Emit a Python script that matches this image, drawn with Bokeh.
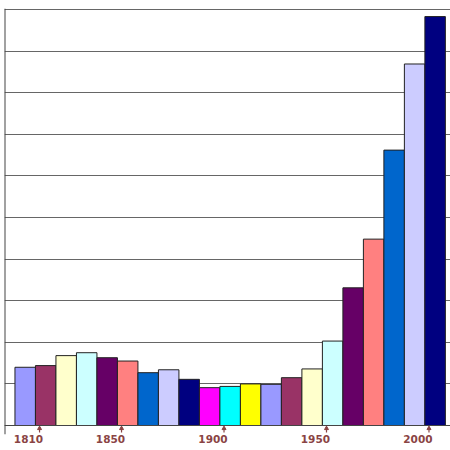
from bokeh.plotting import figure
from bokeh.models import Range1d, FixedTicker, CustomJSTickFormatter, Span
from bokeh.embed import file_html
from bokeh.resources import INLINE

# ---- data ----
decades = [1800, 1810, 1820, 1830, 1840, 1850, 1860, 1870, 1880, 1890, 1900,
           1910, 1920, 1930, 1940, 1950, 1960, 1970, 1980, 1990, 2000]
values = [1.40, 1.44, 1.68, 1.75, 1.63, 1.55, 1.27, 1.34, 1.11, 0.91, 0.94,
          1.00, 0.99, 1.15, 1.36, 2.03, 3.31, 4.48, 6.62, 8.69, 9.83]
palette = ["#9999ff", "#993366", "#ffffcc", "#ccffff", "#660066", "#ff8080",
           "#0066cc", "#ccccff", "#000080", "#ff00ff", "#00ffff", "#ffff00"]
tick_years = [1810, 1850, 1900, 1950, 2000]
tick_labels = ["1810", "1850", "1900", "1950", "2000"]
grid_levels = [0, 1, 2, 3, 4, 5, 6, 7, 8, 9, 10]

bar_shift = 3.0      # bars sit slightly right of the decade mark
label_shift = -5.4   # labels sit left of their tick mark
label_color = "#8a4444"
x_start, x_end = 1792.9, 2010.5

colors = [palette[i % len(palette)] for i in range(len(decades))]
bar_x = [d + bar_shift for d in decades]
label_pos = [t + label_shift for t in tick_years]

p = figure(width=450, height=450, output_backend="svg", toolbar_location=None,
           x_range=Range1d(x_start, x_end), y_range=Range1d(-0.216, 10.024),
           x_axis_location="below", y_axis_location=None,
           min_border_top=8, min_border_left=4,
           min_border_right=0, min_border_bottom=16)
p.outline_line_color = None
p.background_fill_color = "white"
p.border_fill_color = "white"

p.vbar(x=bar_x, top=values, bottom=0, width=10, fill_color=colors,
       line_color="#222222", line_width=1)

# baseline and left axis line
p.add_layout(Span(location=0, dimension="width", line_color="#444444", line_width=1))
p.add_layout(Span(location=x_start, dimension="height", line_color="#444444", line_width=2))

# arrow tick marks
p.segment(x0=tick_years, y0=[-0.05] * len(tick_years), x1=tick_years,
          y1=[-0.17] * len(tick_years), line_color=label_color, line_width=1.2)
p.scatter(x=tick_years, y=[-0.07] * len(tick_years), marker="triangle", size=4,
          fill_color=label_color, line_color=label_color)

p.ygrid.ticker = FixedTicker(ticks=grid_levels)
p.ygrid.grid_line_color = "#666666"
p.ygrid.grid_line_width = 1
p.xgrid.grid_line_color = None

# x axis: labels only
p.xaxis.ticker = FixedTicker(ticks=label_pos)
p.xaxis.formatter = CustomJSTickFormatter(args=dict(labels=tick_labels),
                                          code="return labels[index];")
p.xaxis.axis_line_color = None
p.xaxis.major_tick_line_color = None
p.xaxis.minor_tick_line_color = None
p.xaxis.major_tick_out = 0
p.xaxis.major_tick_in = 0
p.xaxis.major_label_standoff = 0
p.xaxis.major_label_text_font = "DejaVu Sans"
p.xaxis.major_label_text_font_style = "bold"
p.xaxis.major_label_text_font_size = "10.5px"
p.xaxis.major_label_text_color = label_color

open("out.html", "w").write(file_html(p, INLINE))
